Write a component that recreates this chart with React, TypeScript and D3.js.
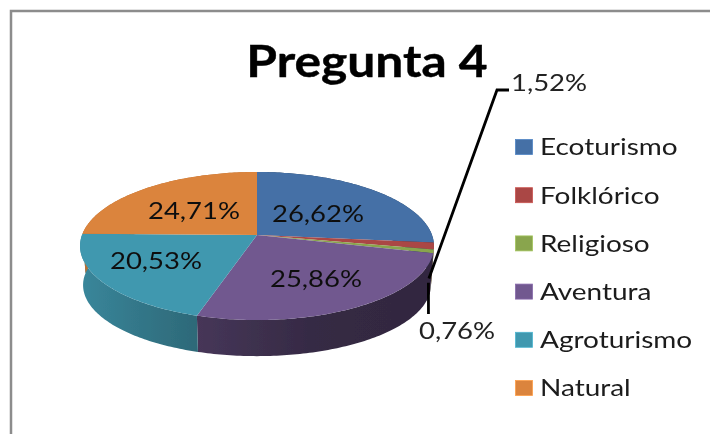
import * as d3 from "d3";

const categories = ["Ecoturismo", "Folklórico", "Religioso", "Aventura", "Agroturismo", "Natural"];
const values = [26.62, 1.52, 0.76, 25.86, 20.53, 24.71];
const labels = ["26,62%", "1,52%", "0,76%", "25,86%", "20,53%", "24,71%"];
const colors = ["#4470a6", "#aa4644", "#89a54e", "#71588f", "#4198af", "#db843d"];
// how much the side wall is darkened, left / middle / right of each slice
const wallShade = [[1.6, 1.6, 1.6], [1.6, 1.6, 1.6], [1.6, 1.6, 1.6], [1.35, 2.1, 2.3], [0.35, 0.7, 1.05], [0.5, 0.5, 0.5]];
const labelPos = [[318, 214], [549, 83], [457, 331], [316, 279], [156, 261], [194, 211]];

const width = 710;
const height = 434;
const hubX = 257;
const hubY = 235;
const tilt = 0.1486; // perspective of the tilted disc
const top = { a: 175, b: 72.4, dy: 0 };
const bottom = { a: 172, b: 69.5, dy: 39.5 };

type Ring = typeof top;

// angle clockwise from 12 o'clock onto the tilted disc
const project = (angle: number, ring: Ring): [number, number] => {
  const u = Math.sin(angle);
  const v = -Math.cos(angle);
  const w = 1 - tilt * v;
  return [hubX + (ring.a * u) / w, hubY + ring.dy + (ring.b * v) / w];
};

const samples = (start: number, end: number) => {
  const n = Math.max(2, Math.ceil((end - start) * 60));
  return d3.range(n + 1).map((i) => start + ((end - start) * i) / n);
};

const arcs = d3.pie<number>().sort(null)(values);
const line = d3.line();

const legendY = d3.scalePoint<string>().domain(categories).range([147, 388]);

const midOf = (i: number) => (arcs[i].startAngle + arcs[i].endAngle) / 2;
const leaderRing = { ...bottom, a: 170, dy: 33 };
const redEnd = project(midOf(1), leaderRing);
const greenEnd = project(midOf(2), leaderRing);

// the reference is a horizontally stretched picture, so the text is too
const textFont = "Lato, sans-serif";

export default function App() {
  return (
    <svg
      width={width}
      height={height}
      style={{ position: "absolute", left: 0, top: 0, background: "#fff" }}
    >
      <defs>
        <filter id="soft" x="-5%" y="-5%" width="110%" height="110%">
          <feGaussianBlur stdDeviation="0.45" />
        </filter>
        {arcs.map((d, i) => {
          const xs = samples(d.startAngle, d.endAngle).map((a) => project(a, bottom)[0]);
          return (
            <linearGradient
              key={i}
              id={`wall${i}`}
              gradientUnits="userSpaceOnUse"
              x1={d3.min(xs)}
              x2={d3.max(xs)}
              y1={0}
              y2={0}
            >
              {wallShade[i].map((k, j) => (
                <stop key={j} offset={j / 2} stopColor={d3.rgb(colors[i]).darker(k).formatHex()} />
              ))}
            </linearGradient>
          );
        })}
      </defs>

      <g filter="url(#soft)">
        <path d="M11,434V11H710" fill="none" stroke="#8c8c8c" strokeWidth={2.5} />

        {arcs.map((d, i) => {
          const angles = samples(d.startAngle, d.endAngle);
          const pts = [
            ...angles.map((a) => project(a, top)),
            ...angles.slice().reverse().map((a) => project(a, bottom)),
          ];
          return <path key={i} d={line(pts) + "Z"} fill={`url(#wall${i})`} />;
        })}

        {arcs.map((d, i) => {
          const pts: [number, number][] = [
            [hubX, hubY],
            ...samples(d.startAngle, d.endAngle).map((a) => project(a, top)),
          ];
          return <path key={i} d={line(pts) + "Z"} fill={colors[i]} />;
        })}

        <path
          d={line([redEnd, [497, 90], [509, 90]]) ?? ""}
          fill="none"
          stroke="#000"
          strokeWidth={2.8}
        />
        <path
          d={line([[greenEnd[0], greenEnd[1] - 1], [greenEnd[0], 314]]) ?? ""}
          fill="none"
          stroke="#000"
          strokeWidth={2.8}
        />

        <text
          transform="translate(367,77) scale(1.13,1)"
          textAnchor="middle"
          fontFamily={textFont}
          fontWeight={700}
          fontSize={44}
          fill="#000"
          stroke="#000"
          strokeWidth={0.4}
        >
          Pregunta 4
        </text>

        {labels.map((t, i) => (
          <text
            key={t}
            transform={`translate(${labelPos[i][0]},${labelPos[i][1]}) scale(1.17,1)`}
            dy="0.36em"
            textAnchor="middle"
            fontFamily={textFont}
            fontSize={23.5}
            fill={i === 1 || i === 2 ? "#222" : "#111"}
          >
            {t}
          </text>
        ))}

        {categories.map((c, i) => (
          <g key={c}>
            <rect
              x={515.5}
              y={(legendY(c) ?? 0) - 7.5}
              width={17}
              height={15}
              fill={colors[i]}
              stroke={d3.rgb(colors[i]).brighter(0.5).formatHex()}
              strokeWidth={0.8}
            />
            <text
              transform={`translate(540,${legendY(c)}) scale(1.19,1)`}
              dy="0.36em"
              fontFamily={textFont}
              fontSize={23.5}
              fill="#1a1a1a"
            >
              {c}
            </text>
          </g>
        ))}
      </g>
    </svg>
  );
}
